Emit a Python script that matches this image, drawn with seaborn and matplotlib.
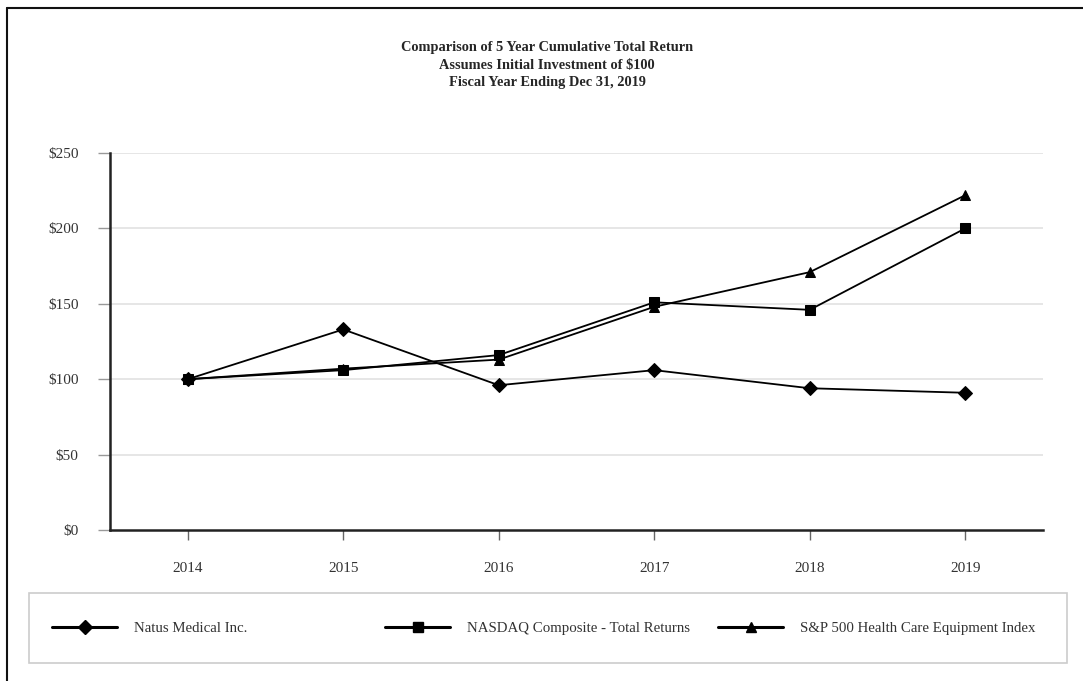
import pandas as pd
import matplotlib
matplotlib.use("Agg")
import matplotlib.pyplot as plt
from matplotlib.lines import Line2D
from matplotlib.patches import Rectangle
import seaborn as sns

years = [2014, 2015, 2016, 2017, 2018, 2019]
natus = [100, 133, 96, 106, 94, 91]
nasdaq = [100, 106, 116, 151, 146, 200]
sp500_hce = [100, 107, 113, 148, 171, 222]

series_names = ["Natus Medical Inc.", "NASDAQ Composite - Total Returns",
                "S&P 500 Health Care Equipment Index"]
y_ticks = [0, 50, 100, 150, 200, 250]
y_labels = ["$0", "$50", "$100", "$150", "$200", "$250"]

df = pd.DataFrame({
    "year": years * 3,
    "value": natus + nasdaq + sp500_hce,
    "series": [series_names[0]] * 6 + [series_names[1]] * 6 + [series_names[2]] * 6,
})

sns.set_style("white")
plt.rcParams["font.family"] = ["Liberation Serif", "DejaVu Serif"]

W, H = 1083, 681
fig = plt.figure(figsize=(W / 100, H / 100), dpi=100)
ax = fig.add_axes([110 / W, 1 - 530 / H, (1043 - 110) / W, (530 - 153) / H])

markers = {series_names[0]: ("D", 7), series_names[1]: ("s", 7), series_names[2]: ("^", 7.5)}
for name in series_names:
    m, ms = markers[name]
    sns.lineplot(data=df[df["series"] == name], x="year", y="value", ax=ax,
                 color="black", marker=m, markersize=ms, markeredgecolor="black",
                 linewidth=1.3, legend=False, zorder=3)

ax.set_xlim(2013.5, 2019.5)
ax.set_ylim(0, 250)
ax.set_yticks(y_ticks)
ax.set_yticklabels(y_labels)
ax.set_xticks(years)
ax.set_xticklabels([str(y) for y in years])
ax.set_xlabel("")
ax.set_ylabel("")
for yv in y_ticks[1:]:
    ax.axhline(yv, color="#e4e4e4", linewidth=1.3, zorder=1)
for s in ["top", "right"]:
    ax.spines[s].set_visible(False)
for s in ["left", "bottom"]:
    ax.spines[s].set_color("#222222")
    ax.spines[s].set_linewidth(1.8)
ax.tick_params(axis="x", length=7, width=1, color="#666666", labelsize=11, pad=16,
               labelcolor="#333333", direction="out", bottom=True)
ax.tick_params(axis="y", length=8.5, width=1, color="#999999", labelsize=11, pad=14,
               labelcolor="#333333", direction="out", left=True)

fig.text(547 / W, 1 - 65 / H, "Comparison of 5 Year Cumulative Total Return\n"
         "Assumes Initial Investment of $100\nFiscal Year Ending Dec 31, 2019",
         ha="center", va="center", fontsize=10.4, fontweight="bold", linespacing=1.45)

# legend box
fig.patches.append(Rectangle((29 / W, 1 - 663 / H), (1067 - 29) / W, 70 / H,
                             transform=fig.transFigure, fill=False,
                             edgecolor="#cccccc", linewidth=1.2))
leg_x = [52, 385, 718]
for name, lx in zip(series_names, leg_x):
    m, ms = markers[name]
    h = Line2D([], [], color="black", marker=m, markersize=ms, linewidth=2.2)
    fig.legend([h], [name], loc="center left", bbox_to_anchor=(lx / W, 1 - 628 / H),
               frameon=False, fontsize=10.7, handlelength=4.4, handletextpad=1.1,
               borderpad=0, borderaxespad=0, labelcolor="#333333")

# outer frame lines
fig.add_artist(Line2D([7 / W, 7 / W], [0, 1 - 8 / H], transform=fig.transFigure,
                      color="#111111", linewidth=1.5))
fig.add_artist(Line2D([7 / W, 1], [1 - 8 / H, 1 - 8 / H], transform=fig.transFigure,
                      color="#111111", linewidth=1.5))

fig.savefig("out.png", dpi=100)
